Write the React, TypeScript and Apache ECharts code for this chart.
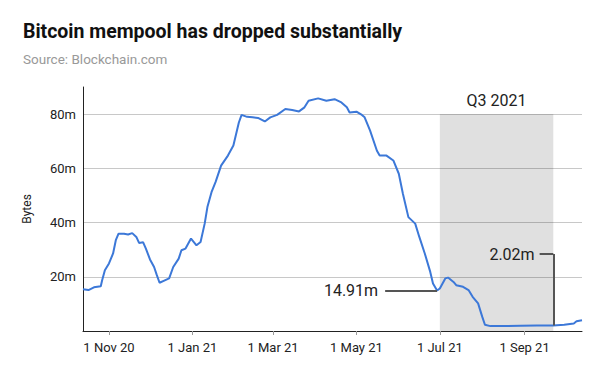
import React, { useEffect, useRef } from "react";
import * as echarts from "echarts";

const TITLE = "Bitcoin mempool has dropped substantially";
const SUBTITLE = "Source: Blockchain.com";
const Y_NAME = "Bytes";

const dates: string[] = [
  "2020-10-13", "2020-10-17", "2020-10-21", "2020-10-26", "2020-10-27", "2020-10-29",
  "2020-11-01", "2020-11-04", "2020-11-06", "2020-11-08", "2020-11-12", "2020-11-15",
  "2020-11-18", "2020-11-21", "2020-11-23", "2020-11-26", "2020-11-28", "2020-12-01",
  "2020-12-04", "2020-12-06", "2020-12-08", "2020-12-11", "2020-12-15", "2020-12-18",
  "2020-12-22", "2020-12-24", "2020-12-27", "2020-12-31", "2021-01-04", "2021-01-07",
  "2021-01-10", "2021-01-12", "2021-01-15", "2021-01-18", "2021-01-22", "2021-01-27",
  "2021-01-31", "2021-02-04", "2021-02-06", "2021-02-10", "2021-02-14", "2021-02-18",
  "2021-02-23", "2021-02-27", "2021-03-04", "2021-03-10", "2021-03-15", "2021-03-20",
  "2021-03-24", "2021-03-27", "2021-04-03", "2021-04-09", "2021-04-15", "2021-04-20",
  "2021-04-24", "2021-04-26", "2021-05-01", "2021-05-05", "2021-05-07", "2021-05-11",
  "2021-05-16", "2021-05-18", "2021-05-23", "2021-05-28", "2021-06-01", "2021-06-04",
  "2021-06-08", "2021-06-13", "2021-06-16", "2021-06-20", "2021-06-24", "2021-06-26",
  "2021-06-29", "2021-07-01", "2021-07-05", "2021-07-07", "2021-07-11", "2021-07-13",
  "2021-07-18", "2021-07-22", "2021-07-25", "2021-07-29", "2021-08-01", "2021-08-03",
  "2021-08-07", "2021-08-17", "2021-08-29", "2021-09-10", "2021-09-22", "2021-09-30",
  "2021-10-07", "2021-10-09", "2021-10-13",
];

// mempool size, millions of bytes
const mempool: number[] = [
  15.4, 15.1, 16.1, 16.5, 18.7, 22.4,
  24.9, 28.6, 33.5, 35.9, 35.9, 35.6,
  36.1, 34.7, 32.5, 32.7, 30.4, 26.4,
  23.6, 20.6, 17.8, 18.5, 19.4, 23.6,
  26.7, 29.8, 30.4, 34.1, 31.6, 32.8,
  39.6, 45.7, 51.2, 55.0, 61.0, 64.7,
  68.4, 76.9, 79.7, 79.0, 78.8, 78.6,
  77.3, 78.8, 79.7, 81.9, 81.5, 81.0,
  82.5, 84.9, 85.8, 84.9, 85.5, 84.3,
  82.5, 80.6, 80.9, 79.7, 78.8, 73.9,
  66.5, 64.7, 64.7, 62.9, 58.0, 50.6,
  42.0, 39.6, 34.7, 28.6, 21.8, 17.5,
  14.91, 15.7, 19.4, 19.7, 18.1, 16.9,
  16.3, 15.1, 12.6, 10.2, 5.3, 2.3,
  1.8, 1.8, 1.9, 2.0, 2.02, 2.3,
  2.8, 3.6, 4.0,
];

const xMin = "2020-10-13";
const xMax = "2021-10-13";
const xTickDates: string[] = ["2020-11-01", "2021-01-01", "2021-03-01", "2021-05-01", "2021-07-01", "2021-09-01"];
const monthNames: string[] = ["Jan", "Feb", "Mar", "Apr", "May", "Jun", "Jul", "Aug", "Sep", "Oct", "Nov", "Dec"];

const yMin = 0;
const yMax = 90;
const yInterval = 20;

const q3Label = "Q3 2021";
const q3Start = "2021-07-01";
const q3End = "2021-09-22";
const q3Top = 80;

const lowLabel = "14.91m";
const lowDate = "2021-06-29";
const lowValue = 14.91;
const lowLineStart = "2021-05-22";

const endLabel = "2.02m";
const endDate = "2021-09-22";
const endValue = 2.02;
const endLineStart = "2021-09-12";
const endLineLevel = 28.4;

function toTs(s: string): number {
  const [y, m, d] = s.split("-").map(Number);
  return Date.UTC(y, m - 1, d);
}

export default function App() {
  const ref = useRef<HTMLDivElement>(null);
  useEffect(() => {
    if (!ref.current) return;
    const chart = echarts.init(ref.current, null, { renderer: "svg" });
    const font = "Roboto";
    const annColor = "#555555";
    chart.setOption({
      animation: false,
      backgroundColor: "#ffffff",
      textStyle: { fontFamily: font },
      title: [
        {
          text: TITLE,
          left: 18,
          top: 16,
          textStyle: { fontFamily: font, fontSize: 19.5, fontWeight: "bold", color: "#111111" },
        },
        {
          text: SUBTITLE,
          left: 18,
          top: 47,
          textStyle: { fontFamily: font, fontSize: 13.5, fontWeight: "normal", color: "#999999" },
        },
      ],
      grid: { left: 83, right: 18, top: 87, bottom: 40 },
      xAxis: {
        type: "value",
        min: toTs(xMin),
        max: toTs(xMax),
        axisLine: { show: true, lineStyle: { color: "#222222", width: 1 } },
        axisTick: {
          show: true,
          length: 4,
          lineStyle: { color: "#999999" },
          customValues: xTickDates.map(toTs),
        },
        axisLabel: {
          customValues: xTickDates.map(toTs),
          fontFamily: font,
          fontSize: 13,
          color: "#222222",
          margin: 10,
          formatter: (v: number) => {
            const d = new Date(v);
            return `1 ${monthNames[d.getUTCMonth()]} ${String(d.getUTCFullYear()).slice(2)}`;
          },
        },
        splitLine: { show: false },
      },
      yAxis: {
        type: "value",
        min: yMin,
        max: yMax,
        interval: yInterval,
        name: Y_NAME,
        nameLocation: "middle",
        nameGap: 50,
        nameRotate: 90,
        nameTextStyle: { fontFamily: font, fontSize: 12, color: "#222222" },
        axisLine: { show: true, lineStyle: { color: "#222222", width: 1 } },
        axisTick: { show: false },
        axisLabel: {
          fontFamily: font,
          fontSize: 13,
          color: "#222222",
          margin: 7,
          showMinLabel: false,
          showMaxLabel: false,
          formatter: (v: number) => (v === yMin || v === yMax ? "" : `${v}m`),
        },
        splitLine: {
          show: true,
          showMinLine: false,
          showMaxLine: false,
          lineStyle: { color: "#c8c8c8", width: 1 },
        },
      },
      series: [
        {
          type: "line",
          data: dates.map((d, i) => [toTs(d), mempool[i]]),
          showSymbol: false,
          symbol: "none",
          lineStyle: { color: "#3c78d8", width: 2 },
          z: 3,
          markArea: {
            silent: true,
            itemStyle: { color: "rgba(0,0,0,0.12)" },
            label: {
              show: true,
              position: "top",
              distance: 6,
              fontFamily: font,
              fontSize: 16,
              color: "#222222",
            },
            data: [[{ name: q3Label, coord: [toTs(q3Start), q3Top] }, { coord: [toTs(q3End), yMin] }]],
          },
          markLine: {
            silent: true,
            symbol: ["none", "none"],
            lineStyle: { color: annColor, width: 2, type: "solid" },
            label: { show: false },
            data: [
              [
                {
                  coord: [toTs(lowLineStart), lowValue],
                  label: {
                    show: true,
                    position: "start",
                    distance: 7,
                    formatter: lowLabel,
                    fontFamily: font,
                    fontSize: 16,
                    color: "#222222",
                  },
                },
                { coord: [toTs(lowDate), lowValue] },
              ],
              [
                {
                  coord: [toTs(endLineStart), endLineLevel],
                  label: {
                    show: true,
                    position: "start",
                    distance: 5,
                    formatter: endLabel,
                    fontFamily: font,
                    fontSize: 16,
                    color: "#222222",
                  },
                },
                { coord: [toTs(endDate), endLineLevel] },
              ],
              [
                { coord: [toTs(endDate), endLineLevel], label: { show: false } },
                { coord: [toTs(endDate), endValue] },
              ],
            ],
          },
        },
      ],
    });
    return () => chart.dispose();
  }, []);
  return <div ref={ref} style={{ position: "fixed", left: 0, top: 0, width: 600, height: 371 }} />;
}
